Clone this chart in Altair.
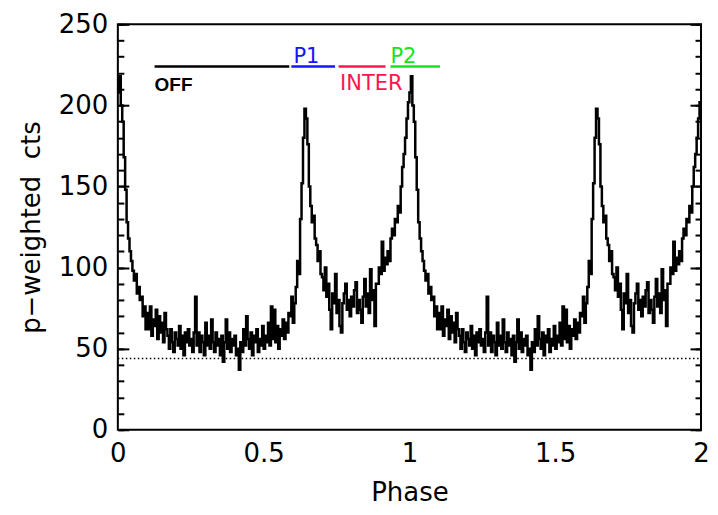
import altair as alt
import pandas as pd

# ---------------- data (one pulse period, 200 bins of 0.005 in phase) ----------------
BIN_WIDTH = 0.005
profile = [
    208, 218, 200, 190, 168, 148, 128, 118, 110, 104,
    98, 92, 96, 84, 88, 80, 82, 70, 76, 62,
    72, 62, 76, 58, 68, 64, 74, 56, 70, 60, 66, 54, 72, 62,
    58, 50, 62, 54, 48, 60, 56, 52, 64, 50, 58, 46, 60, 54, 62, 52, 56, 48, 60,
    82,
    52, 60, 48, 58, 54, 46, 66, 52, 58, 50,
    68, 54, 48, 60, 52, 56, 46, 58, 42, 54,
    68, 50, 60, 48, 56, 52, 58, 46, 50, 37,
    54, 48, 62, 52, 70, 56, 50, 60, 46, 58,
    54, 62, 48, 56, 52, 64, 50, 58, 54, 66,
    52, 76,
    56, 74, 54, 64, 50, 62, 58, 68, 56, 66, 60, 72,
    70, 82, 66, 78,
    88, 104, 96,
    130, 152, 180, 198, 192, 176, 150, 138, 128, 132, 118, 114, 104, 110, 96,
    94, 86, 100, 82, 90, 74, 62, 84, 78,
    96, 72, 80, 64, 60, 78, 84, 90, 74, 80,
    70, 82, 76, 86, 91, 72, 80, 74, 66, 82,
    93, 76, 84, 72, 99, 80, 86, 64, 90,
    90, 100, 96, 116, 98, 106, 102, 110, 104,
    118, 124, 120, 130, 128, 138, 134, 150, 162, 170, 180, 192, 202,
]

baseline_level = [44]

seg_names = ["OFF", "P1", "INTER", "P2"]
seg_start = [0.126, 0.595, 0.757, 0.935]
seg_end = [0.588, 0.745, 0.918, 1.105]
seg_level = [224, 224, 224, 224]
seg_colors = ["#000000", "#1414ff", "#ff1450", "#14e614"]
label_x = [0.126, 0.602, 0.762, 0.935]
label_pos = ["below", "above", "below", "above"]

x_major = [0.0, 0.5, 1.0, 1.5, 2.0]
y_major = [0, 50, 100, 150, 200, 250]
y_minor = list(range(0, 251, 10))

# ---------------- tables ----------------
n = len(profile)
phase_edges = [round(i * BIN_WIDTH, 4) for i in range(2 * n)] + [2.0]
counts = profile + profile + [profile[-1]]
curve_df = pd.DataFrame({"phase": phase_edges, "cts": counts})

base_df = pd.DataFrame({"x0": [0.0], "x1": [2.0], "lvl": baseline_level})

seg_df = pd.DataFrame({
    "name": seg_names, "start": seg_start, "end": seg_end,
    "lvl": seg_level, "color": seg_colors, "lx": label_x, "pos": label_pos,
})

W, H = 584, 406
FONT = "DejaVu Sans"
MAJOR, MINOR = 11, 6

xs = alt.Scale(domain=[0, 2], nice=False, zero=False)
ys = alt.Scale(domain=[0, 250], nice=False, zero=False)

tick_common = dict(labels=False, domain=False, grid=False, title=None,
                   tickWidth=2, tickColor="black")


def y_ticks(orient, values, size):
    # inward ticks: axis pushed across the plot so its ticks point inside
    return alt.Axis(orient=orient, offset=-W, values=values, tickSize=size, **tick_common)


curve = alt.Chart(curve_df).mark_line(
    interpolate="step-after", color="black", strokeWidth=2.5
).encode(
    x=alt.X("phase:Q", scale=xs, axis=alt.Axis(
        values=x_major, format="~g", ticks=False, domain=False, grid=False,
        labelFlush=False, labelPadding=11, title="Phase", titlePadding=13,
        titleFontSize=26)),
    y=alt.Y("cts:Q", scale=ys, axis=alt.Axis(
        values=y_major, ticks=False, domain=False, grid=False, labelFlush=False,
        labelPadding=10, title="p\u2212weighted\u00a0 cts", titlePadding=14,
        titleFontSize=26)),
)

dotted = alt.Chart(base_df).mark_rule(
    color="black", strokeWidth=1.5, strokeDash=[1.5, 2.5]
).encode(
    x=alt.X("x0:Q", scale=xs, axis=None),
    x2="x1:Q",
    y=alt.Y("lvl:Q", scale=ys, axis=y_ticks("right", y_major, MAJOR)),
)

segs = alt.Chart(seg_df).mark_rule(strokeWidth=2.5).encode(
    x=alt.X("start:Q", scale=xs, axis=None),
    x2="end:Q",
    y=alt.Y("lvl:Q", scale=ys, axis=y_ticks("left", y_major, MAJOR)),
    color=alt.Color("color:N", scale=None),
)

labels_above = alt.Chart(seg_df).transform_filter(
    "datum.pos == 'above'"
).mark_text(
    align="left", baseline="alphabetic", font=FONT, fontSize=21, dy=-4
).encode(
    x=alt.X("lx:Q", scale=xs, axis=None),
    y=alt.Y("lvl:Q", scale=ys, axis=y_ticks("right", y_minor, MINOR)),
    text="name:N",
    color=alt.Color("color:N", scale=None),
)

labels_inter = alt.Chart(seg_df).transform_filter(
    "datum.pos == 'below' && datum.name != 'OFF'"
).mark_text(
    align="left", baseline="alphabetic", font=FONT, fontSize=21, dy=24
).encode(
    x=alt.X("lx:Q", scale=xs, axis=None),
    y=alt.Y("lvl:Q", scale=ys, axis=y_ticks("left", y_minor, MINOR)),
    text="name:N",
    color=alt.Color("color:N", scale=None),
)

labels_off = alt.Chart(seg_df).transform_filter(
    "datum.name == 'OFF'"
).mark_text(
    align="left", baseline="alphabetic", font="Liberation Sans", fontSize=19,
    fontWeight="bold", dy=25
).encode(
    x=alt.X("lx:Q", scale=xs, axis=None),
    y=alt.Y("lvl:Q", scale=ys, axis=None),
    text="name:N",
    color=alt.Color("color:N", scale=None),
)

chart = alt.layer(
    curve, dotted, segs, labels_above, labels_inter, labels_off,
).resolve_axis(
    x="independent", y="independent"
).properties(
    width=W, height=H,
    padding={"left": 10, "top": 3, "right": 0, "bottom": 0},
).configure_view(
    stroke="black", strokeWidth=2
).configure_axis(
    labelFont=FONT, labelFontSize=26, labelColor="black",
    titleFont=FONT, titleFontSize=25, titleFontWeight="normal", titleColor="black",
)

chart.save("out.html", embed_options={"renderer": "svg", "actions": False})
